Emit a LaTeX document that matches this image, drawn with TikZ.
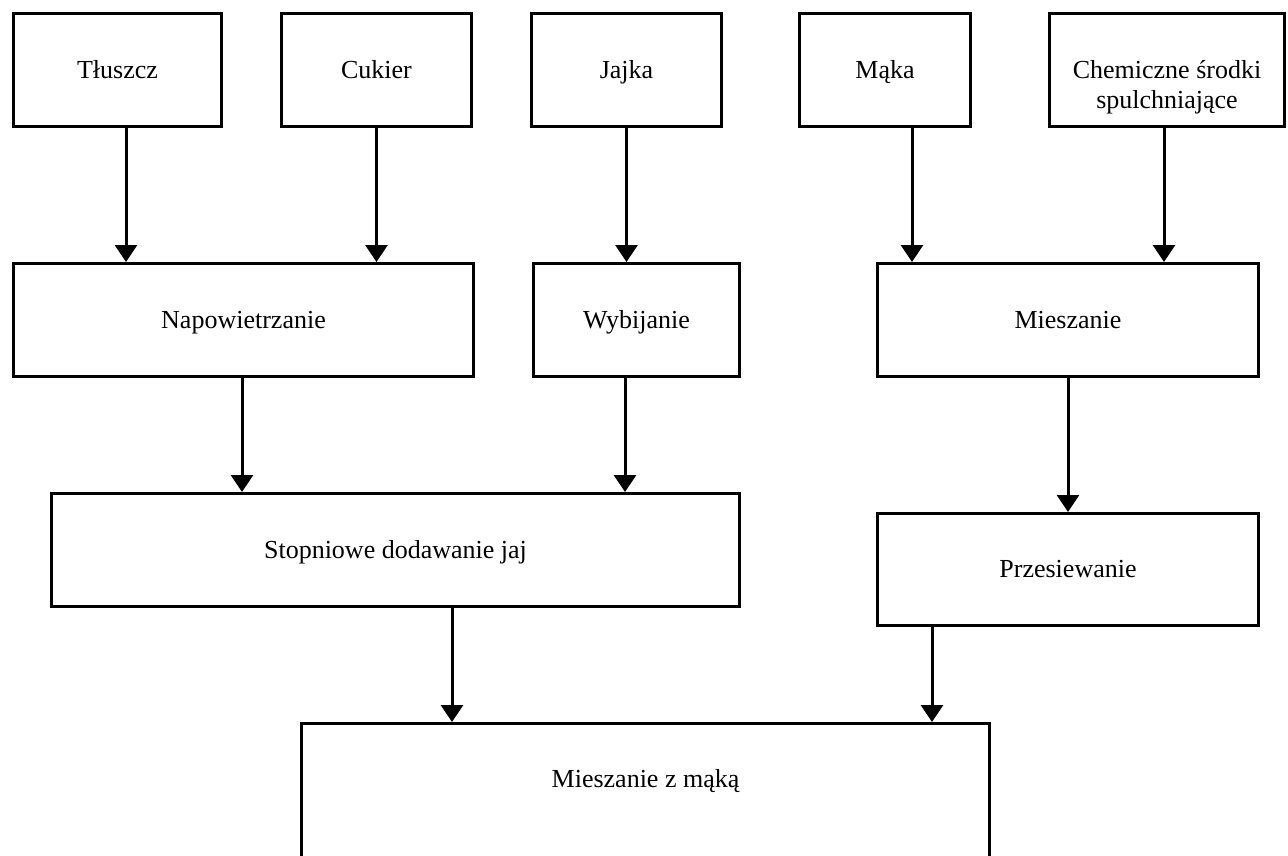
\documentclass[tikz,border=0pt]{standalone}
\usepackage{fontspec}
\setmainfont{Liberation Serif}
\usetikzlibrary{arrows.meta}
\begin{document}
\begin{tikzpicture}[x=1pt,y=-1pt,
  box/.style={draw, line width=3pt, minimum height=113pt, inner sep=0pt,
    text height=20pt, text depth=4pt, font=\fontsize{26}{30}\selectfont},
  arr/.style={line width=3pt, -{Triangle[width=22pt,length=17pt]}}]
\useasboundingbox (0,0) rectangle (1288,855);
\clip (0,0) rectangle (1288,855);
% top row
\node[box, minimum width=208pt] (tl) at (117.5,70) {Tłuszcz};
\node[box, minimum width=190pt] (cu) at (376.5,70) {Cukier};
\node[box, minimum width=190pt] (ja) at (626.5,70) {Jajka};
\node[box, minimum width=171pt] (mk) at (885,70) {Mąka};
\node[box, minimum width=235pt] (ch) at (1167,70)
  {\begin{tabular}[t]{@{}c@{}}Chemiczne środki\\spulchniające\end{tabular}};
% second row
\node[box, minimum width=460pt] (np) at (243.5,320) {Napowietrzanie};
\node[box, minimum width=206pt] (wy) at (636.5,320) {Wybijanie};
\node[box, minimum width=381pt] (ms) at (1068,320) {Mieszanie};
% third row
\node[box, minimum width=688pt] (sd) at (395.5,550) {Stopniowe dodawanie jaj};
\node[box, minimum width=381pt, minimum height=112pt] (pr) at (1068,569.5) {Przesiewanie};
% bottom
\node[box, minimum width=688pt, minimum height=0pt, text height=64pt, text depth=236pt, anchor=north] (mzm) at (645.5,722) {Mieszanie z mąką};
% connectors
\draw[arr] ([xshift=8.5pt]tl.south) -- ([xshift=8.5pt]tl.south |- np.north);
\draw[arr] (cu.south) -- (cu.south |- np.north);
\draw[arr] (ja.south) -- (ja.south |- wy.north);
\draw[arr] ([xshift=27pt]mk.south) -- ([xshift=27pt]mk.south |- ms.north);
\draw[arr] ([xshift=-3pt]ch.south) -- ([xshift=-3pt]ch.south |- ms.north);
\draw[arr] ([xshift=-1.5pt]np.south) -- ([xshift=-1.5pt]np.south |- sd.north);
\draw[arr] ([xshift=-11.5pt]wy.south) -- ([xshift=-11.5pt]wy.south |- sd.north);
\draw[arr] (ms.south) -- (ms.south |- pr.north);
\draw[arr] ([xshift=56.5pt]sd.south) -- ([xshift=56.5pt]sd.south |- mzm.north);
\draw[arr] ([xshift=-136pt]pr.south) -- ([xshift=-136pt]pr.south |- mzm.north);
\end{tikzpicture}
\end{document}
